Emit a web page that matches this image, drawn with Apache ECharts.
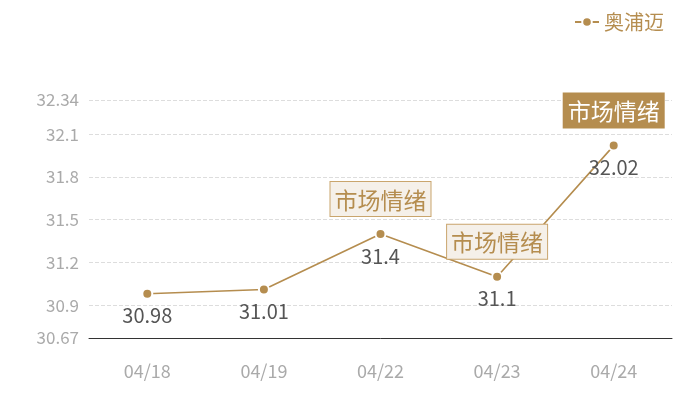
<!DOCTYPE html>
<html>
<head>
<meta charset="utf-8">
<style>
  html, body { margin: 0; padding: 0; background: #fff; }
  #chart { width: 700px; height: 400px; }
</style>
<script src="https://cdn.jsdelivr.net/npm/echarts@6/dist/echarts.min.js"></script>
</head>
<body>
<div id="chart"></div>
<script>
const dates = ["04/18", "04/19", "04/22", "04/23", "04/24"];
const prices = [30.98, 31.01, 31.4, 31.1, 32.02];
const seriesName = "奥浦迈";
const yMin = 30.67;
const yMax = 32.34;
const sentimentDays = ["04/22", "04/23", "04/24"];
const sentimentLevels = ["weak", "weak", "strong"];
const sentimentText = "市场情绪";

const gold = "#b58d4f";
const font = "'Noto Sans CJK SC', 'Noto Sans', sans-serif";

const chart = echarts.init(document.getElementById("chart"));

// sentiment tags sit above the points
const marks = sentimentDays.map((d, i) => {
  const strong = sentimentLevels[i] === "strong";
  return {
    coord: [d, prices[dates.indexOf(d)]],
    label: {
      show: true,
      position: "top",
      distance: 17,
      formatter: sentimentText,
      fontSize: 23,
      lineHeight: 24,
      fontFamily: font,
      color: strong ? "#fff" : gold,
      backgroundColor: strong ? gold : "#f5f0e9",
      borderColor: strong ? gold : "#c9a56d",
      borderWidth: 1,
      padding: [6, 4, 4, 4],
    },
  };
});

chart.setOption({
  animation: false,
  textStyle: { fontFamily: font },
  legend: {
    right: 31,
    top: 7,
    itemWidth: 24,
    itemHeight: 12,
    itemGap: 6,
    textStyle: { color: gold, fontSize: 20, fontFamily: font },
    data: [seriesName],
  },
  grid: { left: 89, right: 28, top: 100, bottom: 62 },
  xAxis: {
    type: "category",
    data: dates,
    axisTick: { show: false },
    axisLine: { lineStyle: { color: "#333" } },
    axisLabel: { color: "#aaa", fontSize: 18, margin: 24, fontFamily: font },
  },
  yAxis: {
    type: "value",
    min: yMin,
    max: yMax,
    axisLine: { show: false },
    axisTick: { show: false },
    axisLabel: { color: "#aaa", fontSize: 17, margin: 10, fontFamily: font, showMinLabel: true, showMaxLabel: true },
    splitLine: { lineStyle: { color: "#ddd", type: "dashed" } },
  },
  series: [{
    name: seriesName,
    type: "line",
    data: prices,
    symbol: "circle",
    symbolSize: 10,
    itemStyle: { color: gold, borderColor: "#fff", borderWidth: 2 },
    lineStyle: { color: gold, width: 1.6 },
    label: { show: true, position: "bottom", distance: 6, color: "#555", fontSize: 20, fontFamily: font },
    markPoint: {
      symbol: "circle",
      symbolSize: 2,
      itemStyle: { color: "transparent" },
      data: marks,
    },
  }],
});
</script>
</body>
</html>
